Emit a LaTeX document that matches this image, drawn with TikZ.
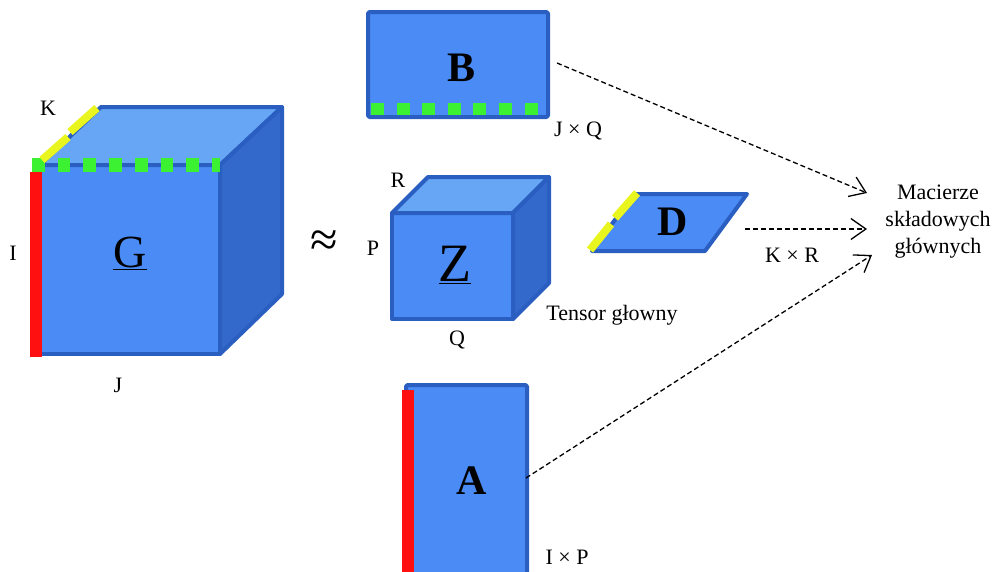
\documentclass[tikz,border=0pt]{standalone}
\usepackage{fontspec}
\setmainfont{Liberation Serif}
\usetikzlibrary{arrows.meta}
\definecolor{faceF}{RGB}{74,139,245}
\definecolor{faceT}{RGB}{102,166,245}
\definecolor{faceS}{RGB}{52,105,204}
\definecolor{edgeC}{RGB}{42,94,192}
\definecolor{grn}{RGB}{60,240,50}
\definecolor{yel}{RGB}{232,245,30}
\definecolor{redb}{RGB}{255,16,16}
\tikzset{
  face/.style={draw=edgeC, line width=4pt, line join=round},
  lbl/.style={inner sep=0pt, font=\fontsize{22}{26}\selectfont},
  big/.style={inner sep=0pt, font=\fontsize{42}{46}\selectfont\bfseries},
  arr/.style={draw=black, line width=1.3pt, dash pattern=on 5pt off 3pt,
    -{Straight Barb[length=15pt,width=21pt,line width=1.3pt]}},
  ylw/.style={draw=yel, line width=8pt},
  grnsq/.style={fill=grn},
}
\begin{document}
\begin{tikzpicture}[x=1pt,y=-1pt]
\useasboundingbox (0,0) rectangle (997,571);
\clip (0,0) rectangle (997,571);
% ---- Cube G
\filldraw[face, fill=faceF] (40,165) rectangle (220,354);
\filldraw[face, fill=faceT] (40,165) -- (101,107) -- (282,107) -- (220,165) -- cycle;
\filldraw[face, fill=faceS] (220,165) -- (282,107) -- (282,294) -- (220,354) -- cycle;
\fill[redb] (30,172) rectangle (42,357);
\foreach \i in {0,...,6} \fill[grnsq] ({32+25.7*\i},158) rectangle ++(12.7,14);
\fill[grnsq] (212,158) rectangle (220,172);
\draw[ylw] (42,160) -- (68,137);
\draw[ylw] (70,132) -- (97,108);
\node[inner sep=0pt, font=\fontsize{46}{50}\selectfont] (G) at (130,253) {\underline{G}};
\node[lbl] (K) at (48,108) {K};
\node[lbl] (I) at (13,253) {I};
\node[lbl] (J) at (118,385) {J};
% approx
\node[inner sep=0pt, font=\fontsize{50}{54}\selectfont] (approx) at (324,244) {≈};
% ---- B
\filldraw[face, fill=faceF, rounded corners=1.5pt] (368,12) rectangle (548,117);
\foreach \i in {0,...,6} \fill[grnsq] ({371+25.6*\i},103) rectangle ++(13,12);
\node[big] (B) at (462,68) {B};
\node[lbl] (JQ) at (578,131) {J × Q};
% ---- Cube Z
\filldraw[face, fill=faceF] (392,213) rectangle (513,319);
\filldraw[face, fill=faceT] (392,213) -- (428,177) -- (549,177) -- (513,213) -- cycle;
\filldraw[face, fill=faceS] (513,213) -- (549,177) -- (549,283) -- (513,319) -- cycle;
\node[inner sep=0pt, font=\fontsize{54}{58}\selectfont] (Z) at (455,265) {\underline{Z}};
\node[lbl] (R) at (398,180) {R};
\node[lbl] (P) at (373,248) {P};
\node[lbl] (Q) at (457,340) {Q};
\node[lbl] (T) at (612,315) {Tensor głowny};
% ---- D
\filldraw[face, fill=faceF] (592,251) -- (634,194) -- (747,194) -- (705,251) -- cycle;
\draw[ylw] (590,250) -- (611,224);
\draw[ylw] (615,218) -- (637,193);
\node[big] (D) at (673,222) {D};
\node[lbl] (KR) at (792,255) {K × R};
% ---- A
\filldraw[face, fill=faceF, rounded corners=1.5pt] (406,385) rectangle (527,590);
\fill[redb] (402,390) rectangle (414,575);
\node[big] (A) at (472,481) {A};
\node[lbl] (IP) at (567,557) {I × P};
% ---- target
\node[lbl, align=center, font=\fontsize{22}{27}\selectfont] (M) at (938,222) {Macierze\\składowych\\głównych};
\coordinate (bs) at (557,63);
\coordinate (be) at (867,193);
\coordinate (ds) at (745,229);
\coordinate (de) at (867,229);
\coordinate (as) at (526,478);
\coordinate (ae) at (872,255);
\draw[arr] (bs) -- (be);
\draw[arr] (ds) -- (de);
\draw[arr] (as) -- (ae);
\end{tikzpicture}
\end{document}
